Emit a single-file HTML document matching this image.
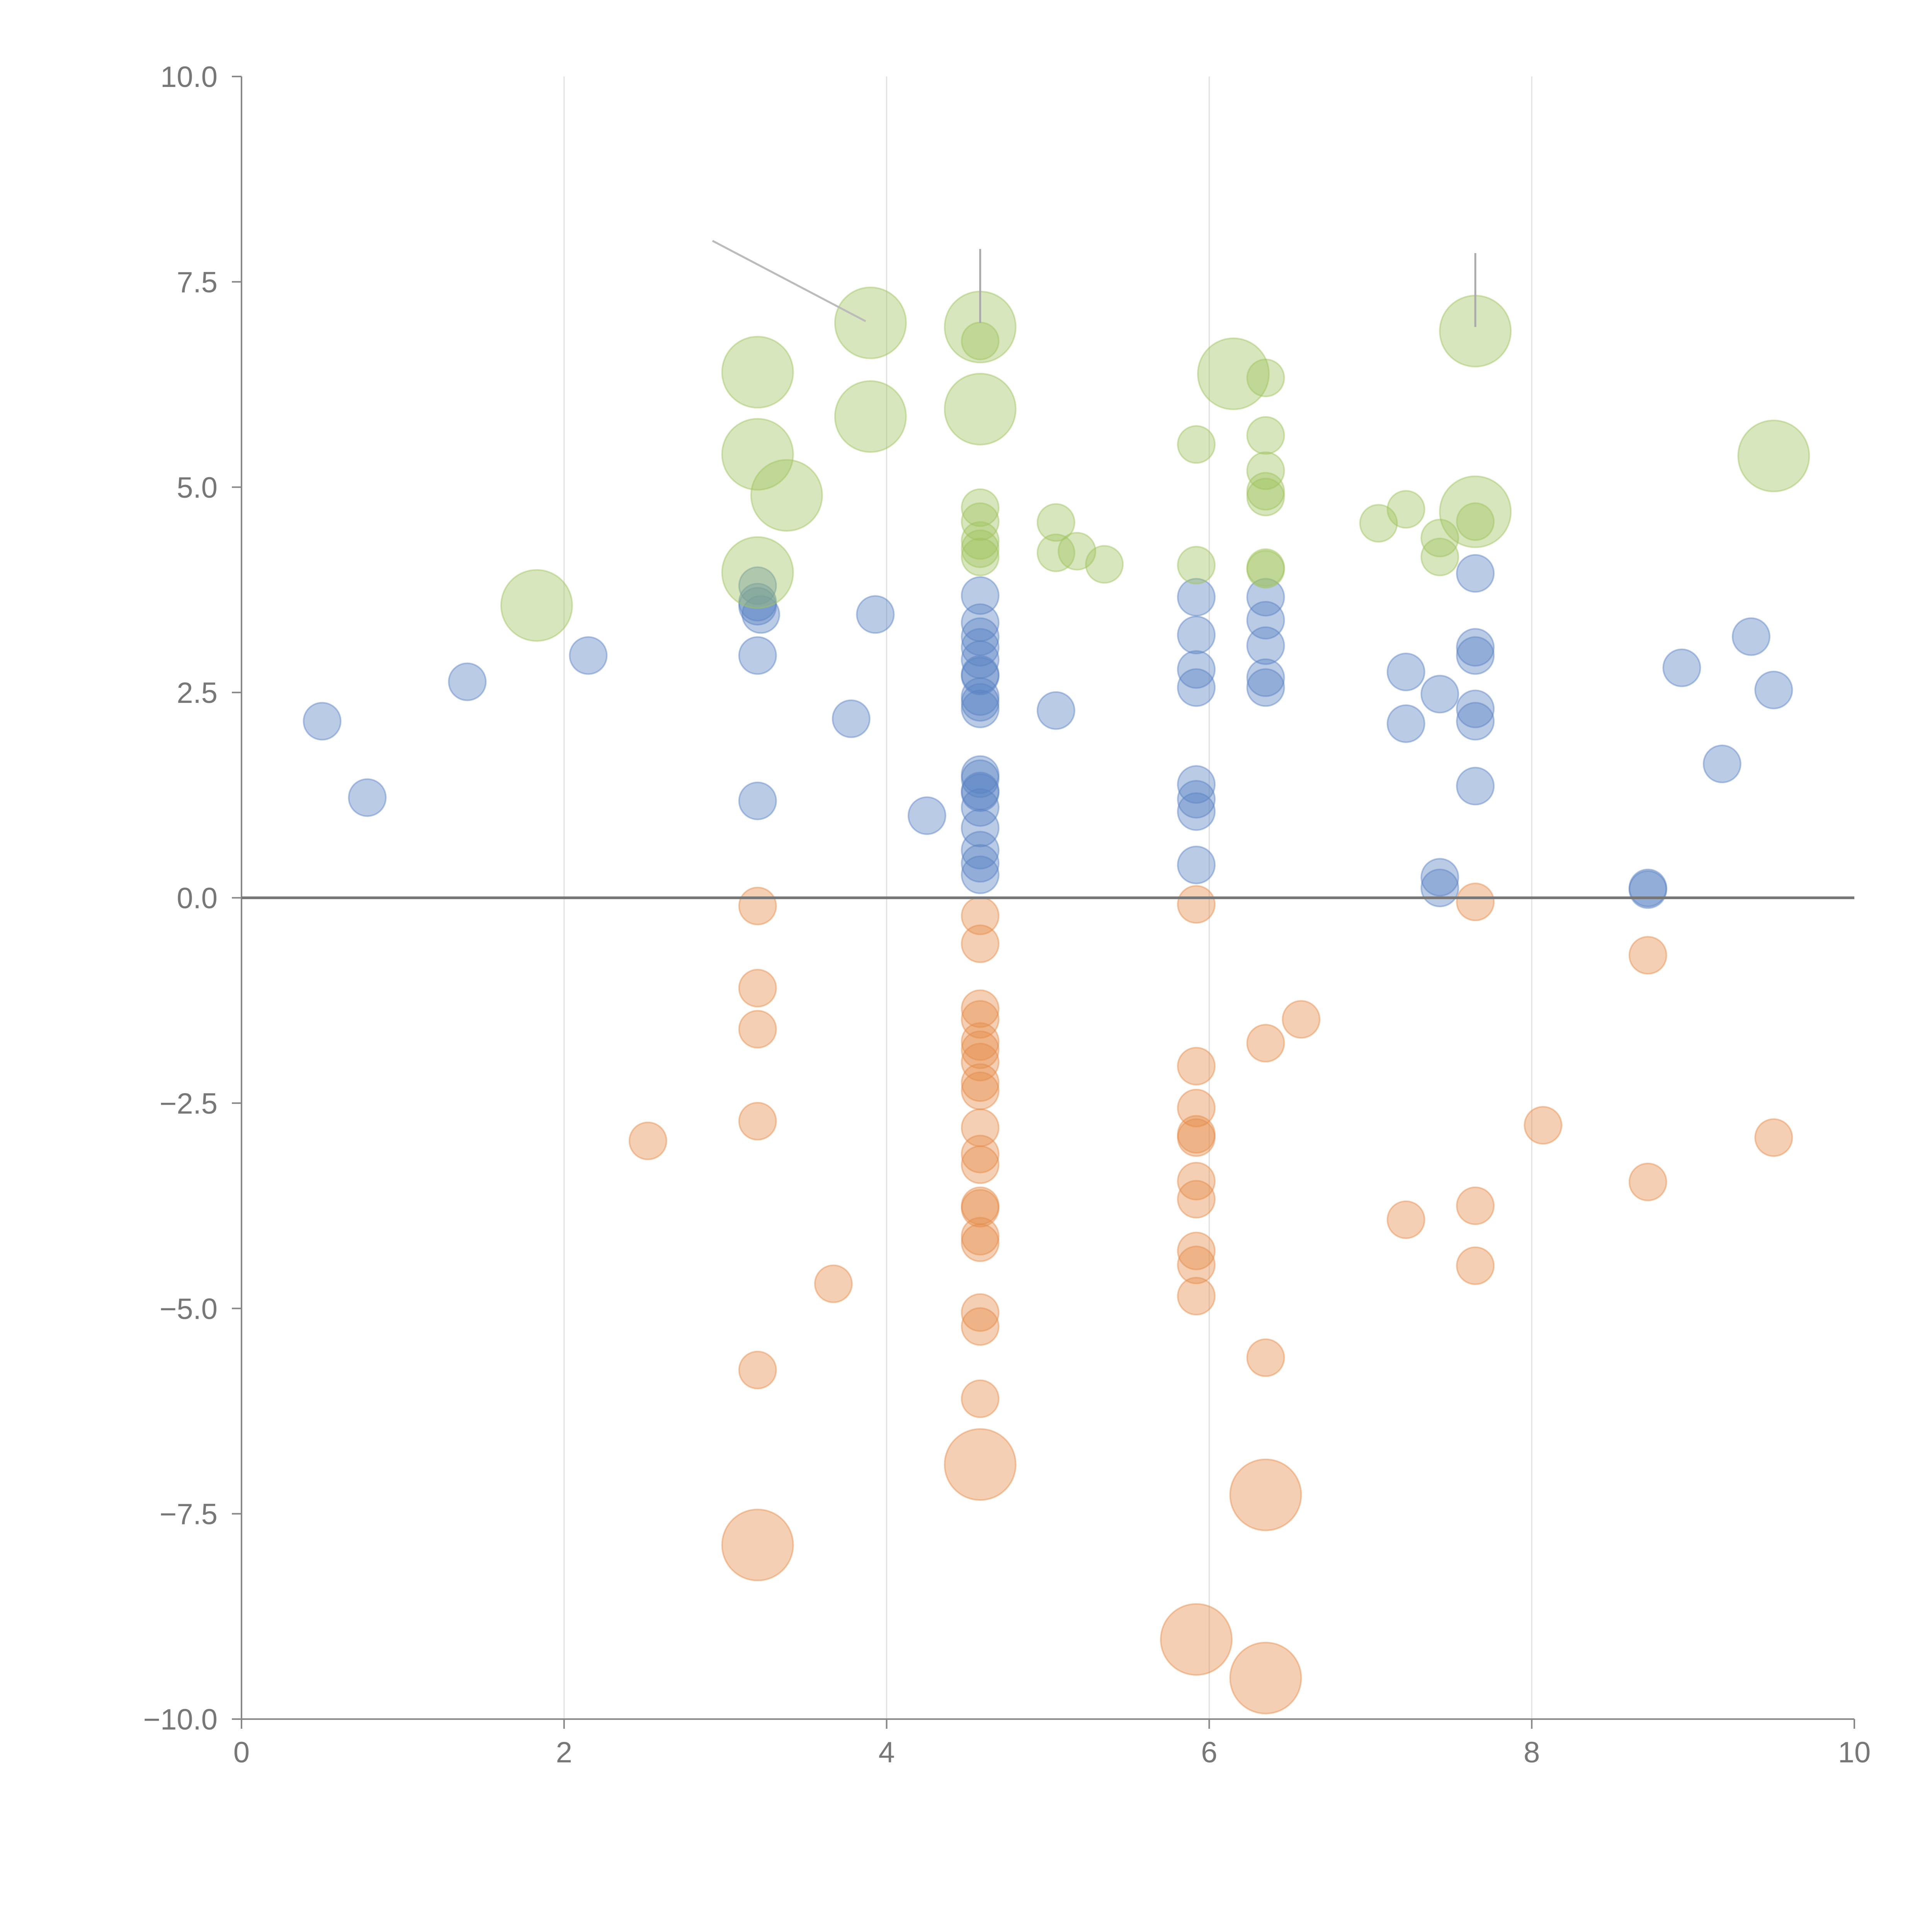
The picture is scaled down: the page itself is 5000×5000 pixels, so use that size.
<!DOCTYPE html>
<html><head><meta charset="utf-8"><style>
html,body{margin:0;padding:0;background:#fff;}
svg{display:block;}
text{font-family:"Liberation Sans",Arial,sans-serif;fill:#777;font-size:76px;}
</style></head><body>
<svg id="chart" width="5000" height="5000" viewBox="0 0 5000 5000" xmlns="http://www.w3.org/2000/svg"></svg>
<script>
const xTicks=[0,2,4,6,8,10];
const yTicks=[-10,-7.5,-5,-2.5,0,2.5,5,7.5,10];
const yTickLabels=["\u221210.0","\u22127.5","\u22125.0","\u22122.5","0.0","2.5","5.0","7.5","10.0"];
const blueX=[0.5,0.78,1.4,2.15,3.2,3.2,3.2,3.22,3.2,3.2,3.78,3.93,4.25,4.58,4.58,4.58,4.58,4.58,4.58,4.58,4.58,4.58,4.58,4.58,4.58,4.58,4.58,4.58,4.58,4.58,4.58,4.58,5.05,5.92,5.92,5.92,5.92,5.92,5.92,5.92,5.92,6.35,6.35,6.35,6.35,6.35,7.22,7.22,7.43,7.43,7.43,7.65,7.65,7.65,7.65,7.65,7.65,8.72,8.72,8.93,9.18,9.36,9.5];
const blueY=[2.15,1.22,2.63,2.95,3.8,3.6,3.55,3.45,2.95,1.18,2.18,3.45,1.0,3.68,3.35,3.18,3.05,2.9,2.72,2.7,2.45,2.38,2.3,1.5,1.45,1.3,1.28,1.1,0.85,0.58,0.42,0.28,2.28,3.66,3.2,2.78,2.56,1.38,1.2,1.05,0.4,3.66,3.38,3.07,2.68,2.56,2.75,2.12,2.48,0.25,0.12,3.95,3.05,2.95,2.3,2.15,1.36,0.12,0.1,2.8,1.63,3.18,2.53];
const orangeX=[2.52,3.2,3.2,3.2,3.2,3.2,3.2,3.67,4.58,4.58,4.58,4.58,4.58,4.58,4.58,4.58,4.58,4.58,4.58,4.58,4.58,4.58,4.58,4.58,4.58,4.58,4.58,4.58,5.92,5.92,5.92,5.92,5.92,5.92,5.92,5.92,5.92,5.92,5.92,6.35,6.35,6.35,6.35,6.57,7.22,7.65,7.65,7.65,8.07,8.72,8.72,9.5];
const orangeY=[-2.96,-0.1,-1.1,-1.6,-2.72,-5.75,-7.88,-4.7,-0.22,-0.56,-1.35,-1.48,-1.75,-1.85,-2.0,-2.25,-2.35,-2.8,-3.12,-3.25,-3.75,-3.78,-4.12,-4.2,-5.05,-5.22,-6.1,-6.9,-0.08,-2.05,-2.56,-2.88,-2.92,-3.45,-3.67,-4.3,-4.47,-4.85,-9.03,-1.77,-5.6,-7.27,-9.5,-1.48,-3.92,-0.05,-3.75,-4.48,-2.77,-0.7,-3.46,-2.92];
const orangeBig=[0,0,0,0,0,0,1,0,0,0,0,0,0,0,0,0,0,0,0,0,0,0,0,0,0,0,0,1,0,0,0,0,0,0,0,0,0,0,1,0,0,1,1,0,0,0,0,0,0,0,0,0];
const greenX=[1.83,3.2,3.2,3.2,3.38,3.9,3.9,4.58,4.58,4.58,4.58,4.58,4.58,4.58,4.58,5.05,5.05,5.18,5.35,5.92,5.92,6.15,6.35,6.35,6.35,6.35,6.35,6.35,6.35,7.05,7.22,7.43,7.43,7.65,7.65,7.65,9.5];
const greenY=[3.56,6.4,5.4,3.96,4.9,7.0,5.86,6.95,6.78,5.95,4.75,4.58,4.35,4.25,4.15,4.57,4.2,4.22,4.06,5.52,4.05,6.38,6.33,5.63,5.2,4.95,4.88,4.02,4.0,4.56,4.73,4.38,4.15,6.9,4.7,4.58,5.38];
const greenBig=[1,1,1,1,1,1,1,1,0,1,0,0,0,0,0,0,0,0,0,0,0,1,0,0,0,0,0,0,0,0,0,0,0,1,1,0,1];

const NS="http://www.w3.org/2000/svg";
const svg=document.getElementById('chart');
const X0=625,X1=4799,YT=198,YB=4449;
const sx=v=>X0+(v-0)/(10-0)*(X1-X0);
const sy=v=>YB-(v+10)/20*(YB-YT);
function mk(tag,attrs,parent){const e=document.createElementNS(NS,tag);for(const k in attrs)e.setAttribute(k,attrs[k]);(parent||svg).appendChild(e);return e;}

const grid=mk('g',{});


[2,4,6,8].forEach(t=>{const l=mk('line',{x1:sx(t),x2:sx(t),y1:YT,y2:YB,stroke:'#e0e0e0','stroke-width':3},grid);

});

const ax=mk('g',{});


mk('line',{x1:X0,x2:X0,y1:YT,y2:YB,stroke:'#888','stroke-width':4},ax);
mk('line',{x1:X0,x2:X1,y1:YB,y2:YB,stroke:'#888','stroke-width':4},ax);
xTicks.forEach(t=>{mk('line',{x1:sx(t),x2:sx(t),y1:YB,y2:YB+25,stroke:'#888','stroke-width':4},ax);
const tx=mk('text',{x:sx(t),y:YB+112,'text-anchor':'middle'},ax);tx.textContent=t;

});
yTicks.forEach((t,i)=>{mk('line',{x1:X0-25,x2:X0,y1:sy(t),y2:sy(t),stroke:'#888','stroke-width':4},ax);
const tx=mk('text',{x:X0-62,y:sy(t)+27,'text-anchor':'end'},ax);tx.textContent=yTickLabels[i];

});

function series(xs,ys,bigs,fill,stroke,name){
const g=mk('g',{});


xs.forEach((x,i)=>{const r=(bigs&&bigs[i])?92:48;
const c=mk('circle',{cx:sx(x),cy:sy(ys[i]),r:r,fill:fill,stroke:stroke,'stroke-width':4},g);

});}
series(blueX,blueY,null,'rgba(90,130,195,0.42)','rgba(90,130,195,0.45)','blue-series');
series(orangeX,orangeY,orangeBig,'rgba(228,140,75,0.42)','rgba(228,140,75,0.45)','orange-series');
series(greenX,greenY,greenBig,'rgba(160,195,95,0.42)','rgba(160,195,95,0.45)','green-series');

const zl=mk('line',{x1:X0,x2:X1,y1:sy(0),y2:sy(0),stroke:'#777','stroke-width':7});



const lg=mk('g',{});


mk('line',{x1:sx(2.92),y1:sy(8.0),x2:sx(3.87),y2:sy(7.02),stroke:'#bbb','stroke-width':5},lg);
mk('line',{x1:sx(4.58),y1:sy(7.9),x2:sx(4.58),y2:sy(7.0),stroke:'#aaa','stroke-width':5},lg);
mk('line',{x1:sx(7.65),y1:sy(7.85),x2:sx(7.65),y2:sy(6.95),stroke:'#aaa','stroke-width':5},lg);
</script>
</body></html>
